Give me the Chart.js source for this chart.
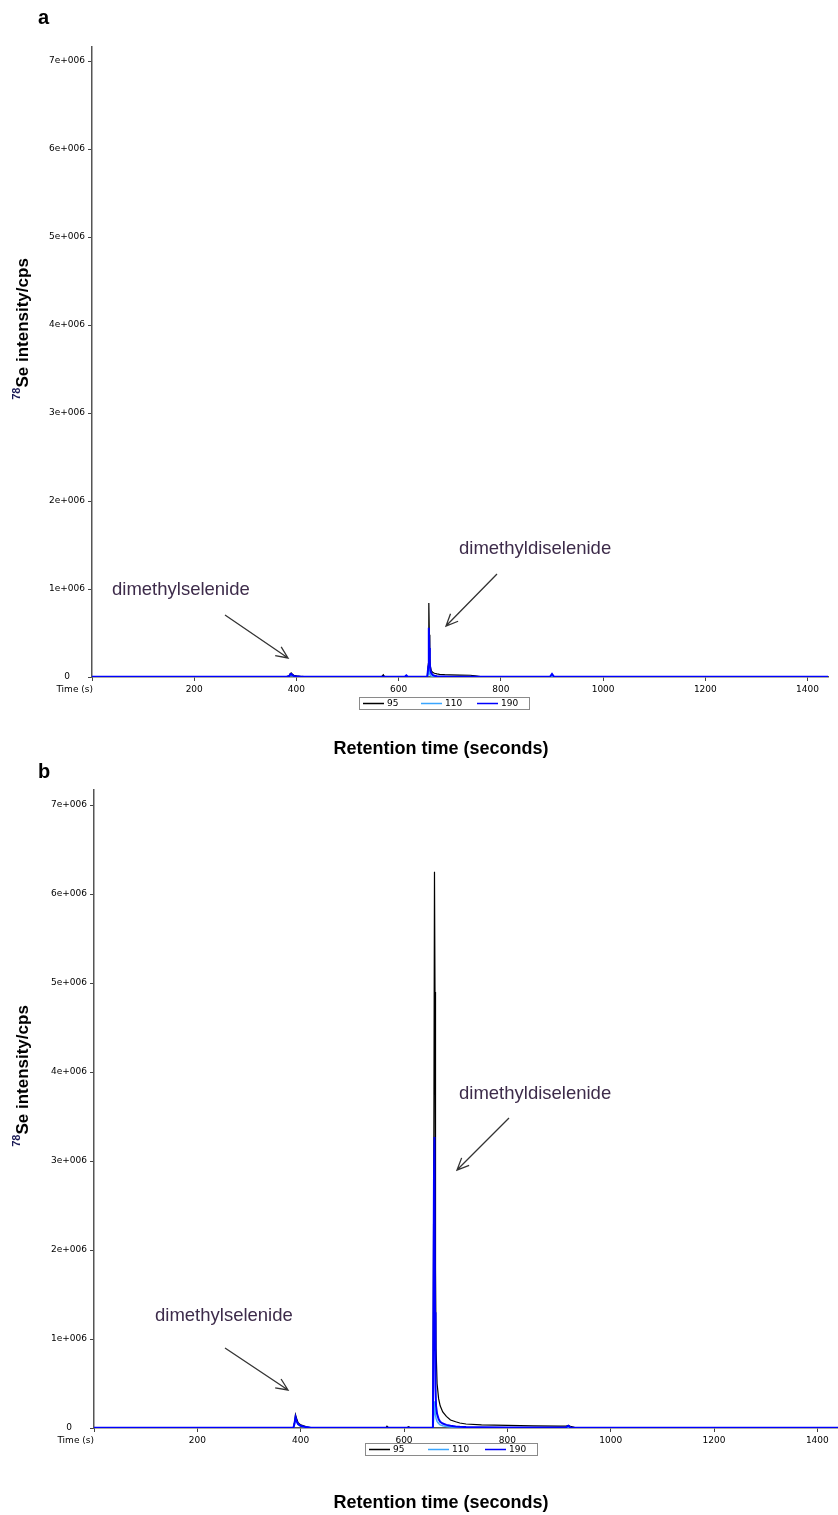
<!DOCTYPE html>
<html><head><meta charset="utf-8">
<script src="https://cdn.jsdelivr.net/npm/chart.js@4"></script>
<style>
html,body{margin:0;padding:0;background:#fff;}
#wrap{position:relative;width:838px;height:1515px;overflow:hidden;}
canvas{position:absolute;left:0;}
</style></head><body>
<div id="wrap">
<canvas id="ca" width="838" height="760" style="top:0px"></canvas>
<canvas id="cb" width="838" height="755" style="top:760px"></canvas>
</div>
<script>
// ---------- data ----------
const seriesLabels = ['95', '110', '190'];
const seriesColors = ['#000000', '#3aa6ff', '#0000ff'];
const xTickValues = [0, 200, 400, 600, 800, 1000, 1200, 1400];
const xTickLabels = ['', '200', '400', '600', '800', '1000', '1200', '1400'];
const yTickValues = [0, 1000000, 2000000, 3000000, 4000000, 5000000, 6000000, 7000000];
const yTickLabels = ['0', '1e+006', '2e+006', '3e+006', '4e+006', '5e+006', '6e+006', '7e+006'];

// Panel a (retention time in seconds, intensity in cps)
const timesA = [0, 380, 386, 388, 390, 392, 395, 400, 410, 420,
  565, 568, 570, 572, 575, 612, 615, 618,
  650, 656, 658, 659, 660, 661, 662, 664, 667, 670,
  675, 680, 690, 700, 720, 740, 750, 760, 800,
  896, 900, 904, 1000, 1440];
const s95A = [3000, 3000, 15000, 40000, 45000, 30000, 20000, 12000, 6000, 3000,
  3000, 12000, 25000, 8000, 3000, 3000, 6000, 3000,
  3000, 3000, 150000, 840000, 480000, 220000, 120000, 70000, 50000, 42000,
  35000, 30000, 26000, 24000, 22000, 20000, 12000, 4000, 3000,
  3000, 8000, 3000, 3000, 3000];
const s110A = [3000, 3000, 5000, 15000, 20000, 12000, 6000, 3000, 3000, 3000,
  3000, 3000, 3000, 3000, 3000, 3000, 3000, 3000,
  3000, 3000, 40000, 110000, 60000, 30000, 18000, 10000, 6000, 4000,
  3000, 3000, 3000, 3000, 3000, 3000, 3000, 3000, 3000,
  3000, 3000, 3000, 3000, 3000];
const s190A = [3000, 3000, 10000, 30000, 35000, 20000, 12000, 8000, 4000, 3000,
  3000, 3000, 3000, 3000, 3000, 3000, 18000, 3000,
  3000, 3000, 120000, 560000, 330000, 160000, 80000, 40000, 22000, 14000,
  9000, 7000, 5000, 4000, 3000, 3000, 3000, 3000, 3000,
  3000, 35000, 3000, 3000, 3000];

// Panel b
const timesB = [0, 380, 386, 388, 390, 392, 395, 400, 410, 420,
  565, 567, 570, 605, 609, 612,
  650, 656, 658, 659, 660, 661, 662, 664, 667, 670,
  675, 682, 690, 700, 708, 720, 750, 800, 850, 900,
  914, 918, 922, 930, 1000, 1440];
const s95B = [3000, 3000, 5000, 60000, 150000, 110000, 60000, 35000, 15000, 3000,
  3000, 20000, 3000, 3000, 15000, 3000,
  3000, 3000, 3750000, 6250000, 4900000, 1800000, 900000, 500000, 330000, 250000,
  180000, 130000, 90000, 70000, 56000, 45000, 35000, 30000, 25000, 22000,
  22000, 30000, 20000, 8000, 3000, 3000];
const s110B = [3000, 3000, 3000, 40000, 100000, 70000, 40000, 20000, 8000, 3000,
  3000, 3000, 3000, 3000, 3000, 3000,
  3000, 3000, 150000, 300000, 220000, 150000, 110000, 75000, 50000, 35000,
  25000, 18000, 12000, 9000, 7000, 5000, 4000, 3000, 3000, 3000,
  3000, 3000, 3000, 3000, 3000, 3000];
const s190B = [3000, 3000, 3000, 50000, 120000, 80000, 45000, 25000, 10000, 3000,
  3000, 3000, 3000, 3000, 3000, 3000,
  3000, 3000, 2800000, 3270000, 1300000, 460000, 250000, 160000, 100000, 70000,
  50000, 35000, 25000, 18000, 14000, 10000, 8000, 6000, 5000, 5000,
  8000, 25000, 6000, 3000, 3000, 3000];

// ---------- drawing ----------
const FONT = '"Liberation Sans", Arial, sans-serif';
const TICKFONT = '"DejaVu Sans", Verdana, sans-serif';

function arrow(ctx, x1, y1, x2, y2) {
  ctx.beginPath();
  ctx.moveTo(x1, y1); ctx.lineTo(x2, y2);
  const a = Math.atan2(y2 - y1, x2 - x1), L = 13, sp = 0.42;
  ctx.moveTo(x2 - L * Math.cos(a - sp), y2 - L * Math.sin(a - sp));
  ctx.lineTo(x2, y2);
  ctx.lineTo(x2 - L * Math.cos(a + sp), y2 - L * Math.sin(a + sp));
  ctx.stroke();
}

const deco = {
  id: 'deco',
  afterDraw(chart, args, o) {
    const ctx = chart.ctx;
    ctx.save();
    ctx.fillStyle = '#000';
    ctx.textAlign = 'left'; ctx.textBaseline = 'alphabetic';
    ctx.font = 'bold 20px ' + FONT;
    ctx.fillText(o.letter, 38, o.letterY);
    // y axis title with superscript
    ctx.save();
    ctx.translate(28, o.yTitleY);
    ctx.rotate(-Math.PI / 2);
    ctx.font = 'bold 11px ' + FONT;
    const w1 = ctx.measureText('78').width;
    ctx.font = 'bold 17px ' + FONT;
    const w2 = ctx.measureText('Se intensity/cps').width;
    let u = -(w1 + w2) / 2;
    ctx.font = 'bold 11px ' + FONT; ctx.fillStyle = '#1a1a55';
    ctx.fillText('78', u, -8);
    ctx.font = 'bold 17px ' + FONT; ctx.fillStyle = '#000';
    ctx.fillText('Se intensity/cps', u + w1, 0);
    ctx.restore();
    // Time (s)
    ctx.font = '9px ' + TICKFONT; ctx.fillStyle = '#000';
    ctx.textAlign = 'right'; ctx.textBaseline = 'middle';
    ctx.fillText('Time (s)', o.timeX, o.timeY);
    // legend
    const lg = o.legend;
    ctx.strokeStyle = '#8a8a8a'; ctx.lineWidth = 1;
    ctx.strokeRect(lg.x + 0.5, lg.y + 0.5, lg.w, lg.h);
    ctx.textAlign = 'left';
    chart.data.datasets.forEach((ds, i) => {
      const lx = lg.x + lg.items[i], cy = lg.y + lg.h / 2 + 0.5;
      ctx.strokeStyle = ds.borderColor; ctx.lineWidth = 1.5;
      ctx.beginPath(); ctx.moveTo(lx, cy); ctx.lineTo(lx + 21, cy); ctx.stroke();
      ctx.fillStyle = '#000';
      ctx.fillText(ds.label, lx + 24, cy);
    });
    // x axis title
    ctx.font = 'bold 18px ' + FONT; ctx.textAlign = 'center'; ctx.textBaseline = 'alphabetic';
    ctx.fillText('Retention time (seconds)', 441, o.xTitleY);
    // annotations
    ctx.font = '18.5px ' + FONT; ctx.textAlign = 'left'; ctx.fillStyle = '#3d2b4a';
    ctx.strokeStyle = '#333'; ctx.lineWidth = 1.3;
    o.notes.forEach(n => {
      ctx.fillText(n.text, n.tx, n.ty);
      arrow(ctx, n.a[0], n.a[1], n.a[2], n.a[3]);
    });
    ctx.restore();
  }
};

function makePanel(id, times, vals, cfg) {
  const datasets = vals.map((v, i) => ({
    label: seriesLabels[i],
    data: times.map((t, k) => ({ x: t, y: v[k] })),
    borderColor: seriesColors[i],
    backgroundColor: seriesColors[i],
    borderWidth: [1.2, 1.5, 2][i],
    pointRadius: 0,
    tension: 0,
    fill: false,
    order: [2, 1, 0][i]
  }));
  const H = cfg.height;
  new Chart(document.getElementById(id), {
    type: 'line',
    data: { datasets },
    options: {
      responsive: false,
      animation: false,
      devicePixelRatio: 1,
      layout: { padding: { left: 0, right: cfg.padRight, top: cfg.top, bottom: 0 } },
      plugins: { legend: { display: false }, tooltip: { enabled: false }, deco: cfg.deco },
      scales: {
        x: {
          type: 'linear', min: 0, max: 1440,
          afterBuildTicks: s => { s.ticks = xTickValues.map(v => ({ value: v })); },
          afterFit: s => { s.height = H - cfg.bottom; s.paddingRight = 0; s.paddingLeft = 0; },
          border: { display: true, color: '#555', width: 1.5 },
          grid: { display: true, drawOnChartArea: false, drawTicks: true, tickLength: 4, color: '#444' },
          ticks: {
            autoSkip: false, maxRotation: 0, minRotation: 0,
            padding: 3, color: '#000', font: { family: TICKFONT, size: 9 },
            callback: (v, i) => xTickLabels[i]
          }
        },
        y: {
          type: 'linear', min: 0, max: cfg.yMax,
          afterBuildTicks: s => { s.ticks = yTickValues.map(v => ({ value: v })); },
          afterFit: s => { s.width = cfg.left; s.paddingTop = 0; s.paddingBottom = 0; },
          border: { display: true, color: '#555', width: 1.5 },
          grid: { display: true, drawOnChartArea: false, drawTicks: true, tickLength: 4, color: '#444' },
          ticks: {
            autoSkip: false,
            crossAlign: 'center', padding: 3, color: '#000', font: { family: TICKFONT, size: 9 },
            callback: (v, i) => yTickLabels[i]
          }
        }
      }
    },
    plugins: [deco]
  });
}

makePanel('ca', timesA, [s95A, s110A, s190A], {
  height: 760, top: 47, bottom: 677, left: 92, padRight: 10, yMax: 7160000,
  deco: {
    letter: 'a', letterY: 24, yTitleY: 329, timeX: 93, timeY: 690, xTitleY: 754,
    legend: { x: 359, y: 697, w: 170, h: 12, items: [4, 62, 118] },
    notes: [
      { text: 'dimethylselenide', tx: 112, ty: 595, a: [225, 615, 288, 658] },
      { text: 'dimethyldiselenide', tx: 459, ty: 554, a: [497, 574, 446, 626] }
    ]
  }
});

makePanel('cb', timesB, [s95B, s110B, s190B], {
  height: 755, top: 30, bottom: 668, left: 94, padRight: 0, yMax: 7170000,
  deco: {
    letter: 'b', letterY: 18, yTitleY: 316, timeX: 94, timeY: 681, xTitleY: 748,
    legend: { x: 365, y: 683, w: 172, h: 12, items: [4, 63, 120] },
    notes: [
      { text: 'dimethylselenide', tx: 155, ty: 561, a: [225, 588, 288, 630] },
      { text: 'dimethyldiselenide', tx: 459, ty: 339, a: [509, 358, 457, 410] }
    ]
  }
});
</script>
</body></html>
